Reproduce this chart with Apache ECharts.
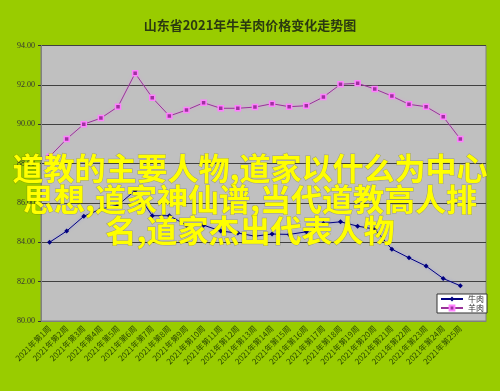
<!DOCTYPE html>
<html>
<head>
<meta charset="utf-8">
<script src="https://cdn.jsdelivr.net/npm/echarts@6/dist/echarts.min.js"></script>
<style>
html,body{margin:0;padding:0;background:#99CC00;}
#c{width:500px;height:391px;}
</style>
</head>
<body>
<div id="c"></div>
<script>
var titleText = '山东省2021年牛羊肉价格变化走势图';
var overlayLines = ['道教的主要人物,道家以什么为中心', '思想,道家神仙谱,当代道教高人排', '名,道家杰出代表人物'];
var weeks = ['2021年第1周','2021年第2周','2021年第3周','2021年第4周','2021年第5周','2021年第6周','2021年第7周','2021年第8周','2021年第9周','2021年第10周','2021年第11周','2021年第12周','2021年第13周','2021年第14周','2021年第15周','2021年第16周','2021年第17周','2021年第18周','2021年第19周','2021年第20周','2021年第21周','2021年第22周','2021年第23周','2021年第24周','2021年第25周',''];
var beef = [84.00,84.57,85.32,85.69,85.89,86.63,85.35,85.35,84.87,84.87,84.57,84.47,84.31,84.42,84.40,84.53,84.96,85.04,84.82,84.67,83.65,83.21,82.79,82.16,81.79];
var lamb = [88.35,89.25,90.00,90.31,90.89,92.59,91.35,90.42,90.72,91.09,90.81,90.81,90.87,91.04,90.89,90.94,91.38,92.03,92.08,91.79,91.43,91.01,90.89,90.38,89.25];
var yTicks = {min: 80, max: 94, step: 2};

var chart = echarts.init(document.getElementById('c'), null, {renderer: 'canvas'});
var overlay = overlayLines.map(function (t, i) {
  return {
    type: 'text', left: 'center', top: 152 + i * 31, z: 100,
    style: {
      text: t, fill: '#FFFF00', font: 'bold 31px "Noto Sans CJK SC"',
      stroke: 'rgba(90,90,0,0.35)', lineWidth: 1
    }
  };
});
chart.setOption({
  backgroundColor: '#99CC00',
  animation: false,
  title: {
    text: titleText, left: 'center', top: 14,
    textStyle: {fontSize: 13, fontWeight: 'bold', color: '#2b3a10', fontFamily: '"Noto Sans CJK SC"'}
  },
  legend: {
    right: 13, top: 294, orient: 'vertical', itemGap: 1,
    backgroundColor: '#ffffff', borderColor: '#333333', borderWidth: 1,
    padding: [1, 3], itemWidth: 22, itemHeight: 6,
    textStyle: {fontSize: 8, color: '#333', fontFamily: '"Noto Sans CJK SC"'},
    data: ['牛肉', '羊肉']
  },
  grid: {left: 41, right: 14, top: 45.5, bottom: 70, show: true, backgroundColor: '#C0C0C0', borderColor: '#808080', borderWidth: 1},
  xAxis: {
    type: 'category', data: weeks, boundaryGap: true,
    axisLine: {lineStyle: {color: '#808080'}},
    axisTick: {inside: true, length: 3, lineStyle: {color: '#333'}},
    axisLabel: {rotate: 45, fontSize: 8, color: '#2d4a00', margin: 6, interval: 0, fontFamily: '"Noto Sans CJK SC"'},
    splitLine: {show: false}
  },
  yAxis: {
    type: 'value', min: yTicks.min, max: yTicks.max, interval: yTicks.step,
    axisLine: {show: true, lineStyle: {color: '#808080'}},
    axisTick: {show: true, length: 3, lineStyle: {color: '#333'}},
    axisLabel: {fontSize: 8, color: '#333', margin: 6, fontFamily: '"Liberation Serif"', formatter: function (v) { return v.toFixed(2); }},
    splitLine: {lineStyle: {color: '#404040', width: 1}}
  },
  series: [
    {
      name: '牛肉', type: 'line', data: beef, symbol: 'diamond', symbolSize: 5,
      itemStyle: {color: '#000080'},
      lineStyle: {color: '#000080', width: 1, shadowColor: 'rgba(120,120,255,0.6)', shadowBlur: 3}
    },
    {
      name: '羊肉', type: 'line', data: lamb, symbol: 'rect', symbolSize: 5,
      itemStyle: {color: '#A030A0', borderColor: '#FF80FF', borderWidth: 1.5},
      lineStyle: {color: '#993399', width: 1, shadowColor: 'rgba(255,120,255,0.6)', shadowBlur: 3}
    }
  ],
  graphic: overlay
});
</script>
</body>
</html>
